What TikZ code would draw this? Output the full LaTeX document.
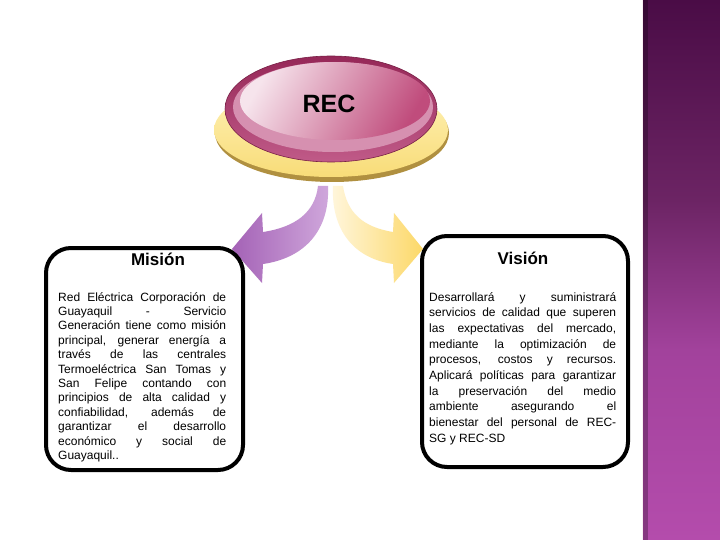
\documentclass[tikz,border=0pt]{standalone}
\usepackage{fontspec}
\setmainfont{Liberation Sans}
\definecolor{stripA}{HTML}{4A0C46}
\definecolor{stripB}{HTML}{6C2464}
\definecolor{stripC}{HTML}{A2429C}
\definecolor{stripD}{HTML}{B44CAC}
\definecolor{yelDark}{HTML}{B09040}
\definecolor{yelTop}{HTML}{FFF2B8}
\definecolor{yelBot}{HTML}{F8DC78}
\definecolor{pinkDark}{HTML}{962858}
\definecolor{pinkMid}{HTML}{C05A88}
\definecolor{pinkBand}{HTML}{D690B0}
\definecolor{pinkLight}{HTML}{F6E4EC}
\definecolor{pinkDeep}{HTML}{C04C7C}
\definecolor{purA}{HTML}{A462B6}
\definecolor{purB}{HTML}{D0A8DC}
\definecolor{ylA}{HTML}{FFF6DC}
\definecolor{ylB}{HTML}{FCD868}
\tikzset{
  infobox/.style={draw=black, line width=4pt, rounded corners=25pt, fill=white},
  boxtitle/.style={font=\fontsize{17}{20}\selectfont\bfseries, anchor=base, inner sep=0pt},
  bodytext/.style={anchor=base west, inner sep=0pt, align=justify}
}
\begin{document}
\begin{tikzpicture}[x=1pt,y=-1pt]
\useasboundingbox (0,0) rectangle (720,540);
\fill[white] (0,0) rectangle (720,540);
% right strip
\shade[top color=stripA, bottom color=stripB] (643,0) rectangle (720,200);
\shade[top color=stripB, bottom color=stripC] (643,200) rectangle (720,350);
\shade[top color=stripC, bottom color=stripD] (643,350) rectangle (720,540);
\fill[black, opacity=0.25] (643,0) rectangle (648,540);
\fill[pinkLight, opacity=0.6] (641.5,0) rectangle (643,540);
% arrows
\shade[left color=purA, right color=purB]
  (318,186) .. controls (315,212) and (296,227) .. (263,232) -- (262,213) -- (232,249)
  -- (262,283) -- (263,264) .. controls (305,258) and (330,230) .. (328,186) -- cycle;
\shade[left color=ylA, right color=ylB]
  (343,186) .. controls (347,212) and (362,227) .. (393,232) -- (394,213) -- (423,249)
  -- (394,283) -- (393,264) .. controls (352,258) and (331,228) .. (333,186) -- cycle;
% REC button
\fill[yelDark] (332,133) ellipse [x radius=117, y radius=49];
\shade[top color=yelTop, bottom color=yelBot] (331,130) ellipse [x radius=117, y radius=47];
\shade[top color=pinkDark, bottom color=pinkMid, draw=pinkDark!80!black, line width=0.6pt]
  (331,109) ellipse [x radius=106, y radius=53];
\fill[pinkBand] (333,107) ellipse [x radius=100, y radius=45];
\shade[top color=pinkLight, bottom color=pinkDeep, shading angle=60]
  (335,101) ellipse [x radius=95, y radius=39];
\node[font=\fontsize{25}{30}\selectfont\bfseries, anchor=base, inner sep=0pt] (rec) at (329,113) {REC};
% boxes
\draw[infobox] (46,248) rectangle (243,470);
\draw[infobox] (422,236) rectangle (628,467);
\node[boxtitle] (mision) at (158,265) {Misión};
\node[boxtitle] (vision) at (523,264) {Visión};
\node[bodytext, text width=168pt, font=\fontsize{12}{14.4}\selectfont] (mtext) at (58,301)
{Red Eléctrica Corporación de\linebreak Guayaquil - Servicio\linebreak Generación tiene como misión\linebreak principal, generar energía a\linebreak través de las centrales\linebreak Termoeléctrica San Tomas y\linebreak San Felipe contando con\linebreak principios de alta calidad y\linebreak confiabilidad, además de\linebreak garantizar el desarrollo\linebreak económico y social de\linebreak Guayaquil..};
\node[bodytext, text width=187pt, font=\fontsize{12}{15.7}\selectfont] (vtext) at (429,301)
{Desarrollará y suministrará\linebreak servicios de calidad que superen\linebreak las expectativas del mercado,\linebreak mediante la optimización de\linebreak procesos, costos y recursos.\linebreak Aplicará políticas para garantizar\linebreak la preservación del medio\linebreak ambiente asegurando el\linebreak bienestar del personal de REC-\linebreak SG y REC-SD};
\end{tikzpicture}
\end{document}
